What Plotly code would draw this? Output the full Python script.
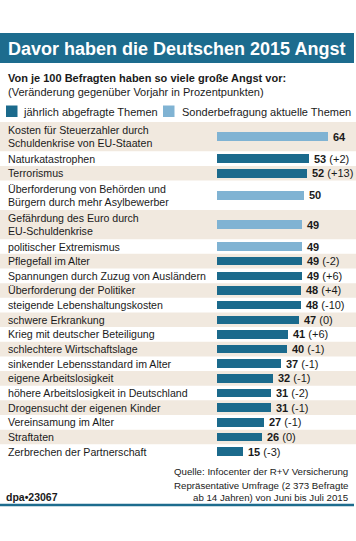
import plotly.graph_objects as go

W, H = 356, 541

labels = [
    "Kosten für Steuerzahler durch<br>Schuldenkrise von EU-Staaten",
    "Naturkatastrophen",
    "Terrorismus",
    "Überforderung von Behörden und<br>Bürgern durch mehr Asylbewerber",
    "Gefährdung des Euro durch<br>EU-Schuldenkrise",
    "politischer Extremismus",
    "Pflegefall im Alter",
    "Spannungen durch Zuzug von Ausländern",
    "Überforderung der Politiker",
    "steigende Lebenshaltungskosten",
    "schwere Erkrankung",
    "Krieg mit deutscher Beteiligung",
    "schlechtere Wirtschaftslage",
    "sinkender Lebensstandard im Alter",
    "eigene Arbeitslosigkeit",
    "höhere Arbeitslosigkeit in Deutschland",
    "Drogensucht der eigenen Kinder",
    "Vereinsamung im Alter",
    "Straftaten",
    "Zerbrechen der Partnerschaft",
]
values = [64, 53, 52, 50, 49, 49, 49, 49, 48, 48, 47, 41, 40, 37, 32, 31, 31, 27, 26, 15]
changes = [None, 2, 13, None, None, None, -2, 6, 4, -10, 0, 6, -1, -1, -1, -2, -1, -1, 0, -3]
special = [True, False, False, True, True, True] + [False] * 14

legend_labels = ["jährlich abgefragte Themen", "Sonderbefragung aktuelle Themen"]
title = "Davor haben die Deutschen 2015 Angst"
subtitle1 = "Von je 100 Befragten haben so viele große Angst vor:"
subtitle2 = "(Veränderung gegenüber Vorjahr in Prozentpunkten)"
source_lines = ["Quelle: Infocenter der R+V Versicherung",
                "Repräsentative Umfrage (2 373 Befragte",
                "ab 14 Jahren) von Juni bis Juli 2015"]
credit = "dpa•23067"

DARK = "#1b6a8c"
LIGHT = "#80b3d3"
BEIGE = "#f1e9df"
TXT = "#1a1a1a"
FONT = "Liberation Sans, Arial, sans-serif"

def px(x):
    return x / W

def py(y):
    return 1 - y / H

# row layout (units = lines)
nlines = [lab.count("<br>") + 1 for lab in labels]
starts, centers = [], []
acc = 0
for n in nlines:
    starts.append(acc)
    centers.append(acc + n / 2)
    acc += n
total = acc

ROW_TOP, UNIT = 122, 14.65
ROW_BOT = ROW_TOP + total * UNIT
X0, PXU = 217, 1.74

fig = go.Figure()
fig.add_trace(go.Bar(
    y=centers, x=values, orientation="h",
    marker=dict(color=[LIGHT if s else DARK for s in special], line=dict(width=0)),
    width=0.58, showlegend=False, hoverinfo="skip",
))

shapes = []
annotations = []

# row bands
for i, (s, n) in enumerate(zip(starts, nlines)):
    if i % 2 == 0:
        shapes.append(dict(type="rect", xref="paper", yref="y", x0=0, x1=1,
                           y0=s, y1=s + n, fillcolor=BEIGE, line=dict(width=0), layer="below"))

# category labels
for lab, c, n in zip(labels, centers, nlines):
    parts = lab.split("<br>")
    for k, part in enumerate(parts):
        off = (k - (len(parts) - 1) / 2) * 0.88
        annotations.append(dict(xref="paper", yref="y", x=px(5.5), y=c + off, text=part,
                                showarrow=False, xanchor="left", yanchor="middle",
                                font=dict(family=FONT, size=10.6, color=TXT)))

# value labels
for v, ch, c in zip(values, changes, centers):
    t = f"<b>{v}</b>"
    if ch is not None:
        t += f" ({'+' if ch > 0 else ''}{ch})"
    annotations.append(dict(xref="x", yref="y", x=v, y=c, text=t, showarrow=False,
                            xanchor="left", yanchor="middle", xshift=3,
                            font=dict(family=FONT, size=11, color=TXT)))

# title bar
shapes.append(dict(type="rect", xref="paper", yref="paper", x0=0, x1=px(354),
                   y0=py(63), y1=py(33), fillcolor="#1d6c8e", line=dict(width=0)))
annotations.append(dict(xref="paper", yref="paper", x=px(6), y=py(48.5), text=f"<b>{title}</b>",
                        showarrow=False, xanchor="left", yanchor="middle",
                        font=dict(family=FONT, size=18, color="white")))
annotations.append(dict(xref="paper", yref="paper", x=px(6), y=py(77.5), text=f"<b>{subtitle1}</b>",
                        showarrow=False, xanchor="left", yanchor="middle",
                        font=dict(family=FONT, size=11, color=TXT)))
annotations.append(dict(xref="paper", yref="paper", x=px(6), y=py(91.5), text=subtitle2,
                        showarrow=False, xanchor="left", yanchor="middle",
                        font=dict(family=FONT, size=11, color=TXT)))

# legend
for (x0, x1, col, tx, lab) in [(6, 17.5, DARK, 20.5, legend_labels[0]),
                               (163, 174.5, LIGHT, 179.5, legend_labels[1])]:
    shapes.append(dict(type="rect", xref="paper", yref="paper", x0=px(x0), x1=px(x1),
                       y0=py(117), y1=py(105.5), fillcolor=col, line=dict(width=0)))
    annotations.append(dict(xref="paper", yref="paper", x=px(tx), y=py(111.5), text=lab,
                            showarrow=False, xanchor="left", yanchor="middle",
                            font=dict(family=FONT, size=11, color=TXT)))

# source
for yy, line in zip([471, 485, 497], source_lines):
    annotations.append(dict(xref="paper", yref="paper", x=px(350), y=py(yy), text=line,
                            showarrow=False, xanchor="right", yanchor="middle",
                            font=dict(family=FONT, size=9.7, color=TXT)))
annotations.append(dict(xref="paper", yref="paper", x=px(4), y=py(497), text=f"<b>{credit}</b>",
                        showarrow=False, xanchor="left", yanchor="middle",
                        font=dict(family=FONT, size=10.5, color=TXT)))
# bottom rule
shapes.append(dict(type="line", xref="paper", yref="paper", x0=0, x1=px(354),
                   y0=py(505), y1=py(505), line=dict(color="#1d6c8e", width=2.5)))

fig.update_layout(
    width=W, height=H, margin=dict(l=0, r=0, t=0, b=0),
    paper_bgcolor="white", plot_bgcolor="rgba(0,0,0,0)",
    xaxis=dict(domain=[px(X0), 1], range=[0, (W - X0) / PXU], visible=False, fixedrange=True),
    yaxis=dict(domain=[py(ROW_BOT), py(ROW_TOP)], range=[total, 0], visible=False, fixedrange=True),
    shapes=shapes, annotations=annotations, bargap=0, showlegend=False,
)
fig.write_html("out.html", config={"displayModeBar": False},
               post_script="document.body.style.margin='0';document.body.style.overflow='hidden';")
